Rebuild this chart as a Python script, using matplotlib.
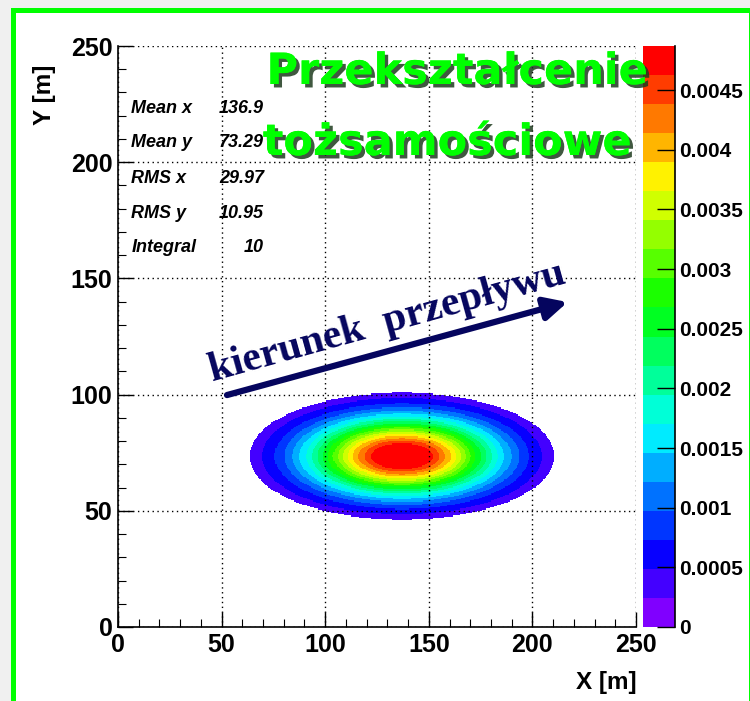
import matplotlib
matplotlib.use("Agg")
import matplotlib.pyplot as plt
import matplotlib.patheffects as pe
import numpy as np
from matplotlib.colors import ListedColormap, BoundaryNorm, hsv_to_rgb
from matplotlib.patches import Rectangle

# Plume statistics as printed in the stats box
STATS_LABELS = ["Mean x", "Mean y", "RMS x", "RMS y", "Integral"]
STATS_VALUES = ["136.9", "73.29", "29.97", "10.95", "10"]

# Concentration field: gaussian plume, cells below CUTOFF left empty
CENTER_X, CENTER_Y = 137.0, 73.5
SIGMA_X, SIGMA_Y = 31.0, 11.5
PEAK = 0.0052
CUTOFF = 0.00031
N_BINS = 500
AXIS_MAX = 250

# colour scale range and contour count
Z_MAX = 0.00487
N_LEVELS = 20
CBAR_TICKS = [0, 0.0005, 0.001, 0.0015, 0.002, 0.0025, 0.003, 0.0035, 0.004, 0.0045]
CBAR_LABELS = ["0", "0.0005", "0.001", "0.0015", "0.002", "0.0025", "0.003",
               "0.0035", "0.004", "0.0045"]
AXIS_TICKS = [0, 50, 100, 150, 200, 250]

# flow direction arrow (data coords)
ARROW_START = (52.6, 99.8)
ARROW_END = (217.0, 139.8)

NAVY = "#05055e"
GREEN = "#00ff00"

edges = np.linspace(0, AXIS_MAX, N_BINS + 1)
centers = 0.5 * (edges[:-1] + edges[1:])
gx, gy = np.meshgrid(centers, centers)
r2 = ((gx - CENTER_X) / SIGMA_X) ** 2 + ((gy - CENTER_Y) / SIGMA_Y) ** 2
field = np.minimum(PEAK * np.exp(-0.5 * r2), Z_MAX * 0.9999)
field = np.ma.masked_where(PEAK * np.exp(-0.5 * r2) < CUTOFF, field)

# rainbow palette, violet -> red
hues = np.linspace(270, 0, N_LEVELS) / 360.0
colors = hsv_to_rgb(np.column_stack([hues, np.ones(N_LEVELS), np.ones(N_LEVELS)]))
cmap = ListedColormap(colors)
cmap.set_bad(alpha=0)
levels = np.linspace(0, Z_MAX, N_LEVELS + 1)
norm = BoundaryNorm(levels, cmap.N)

fig = plt.figure(figsize=(7.5, 7.01), dpi=100)
fig.patch.set_facecolor("#f0f0f0")
W, H = 750, 701
frame = Rectangle((12.5 / W, -0.05), (751 - 12.5) / W, 1.05 - 10.5 / H,
                  transform=fig.transFigure, facecolor="white", edgecolor=GREEN,
                  linewidth=3.6, zorder=-5)
fig.patches.append(frame)

ax = fig.add_axes([118 / W, 1 - 627 / H, 518 / W, 581 / H])
ax.set_facecolor("white")
ax.pcolormesh(edges, edges, field, cmap=cmap, norm=norm, zorder=1)

ax.set_xlim(0, AXIS_MAX)
ax.set_ylim(0, AXIS_MAX)
ax.set_xticks(AXIS_TICKS)
ax.set_yticks(AXIS_TICKS)
ax.set_xticks(np.arange(0, AXIS_MAX + 1, 10), minor=True)
ax.set_yticks(np.arange(0, AXIS_MAX + 1, 10), minor=True)
ax.grid(True, which="major", color="black", linestyle=(0, (1, 2.5)), linewidth=1.0, zorder=2)
ax.set_axisbelow(False)
ax.tick_params(which="major", direction="in", length=11, width=1.0, labelsize=18, pad=4)
ax.tick_params(which="minor", direction="in", length=5.5, width=0.8)
ax.tick_params(top=False, right=False)
for lbl in ax.get_xticklabels() + ax.get_yticklabels():
    lbl.set_fontweight("bold")
    lbl.set_fontfamily("Liberation Sans")
for side in ["top", "right"]:
    ax.spines[side].set_visible(False)
for side in ["left", "bottom"]:
    ax.spines[side].set_linewidth(1.2)

fig.text(44 / W, 1 - 95 / H, "Y [m]", rotation=90, ha="center", va="center",
         fontsize=17.5, fontweight="bold", family="Liberation Sans")
fig.text(637 / W, 1 - 683 / H, "X [m]", ha="right", va="center",
         fontsize=17.5, fontweight="bold", family="Liberation Sans")

# stats box entries
row_y = [223.3, 208.3, 193.2, 178.1, 163.1]
for name, val, y in zip(STATS_LABELS, STATS_VALUES, row_y):
    ax.text(6.5, y, name, ha="left", va="center", fontsize=13,
            fontweight="bold", style="italic", family="Liberation Sans", zorder=5)
    ax.text(70.5, y, val, ha="right", va="center", fontsize=13,
            fontweight="bold", style="italic", family="Liberation Sans", zorder=5)

# flow direction arrow and label
ax.annotate("", xy=ARROW_END, xytext=ARROW_START,
            arrowprops=dict(arrowstyle="-|>", color=NAVY, lw=4.5,
                            mutation_scale=34, shrinkA=0, shrinkB=0), zorder=6)
ax.text(130.0, 131.0, "kierunek  przepływu", rotation=15.5, ha="center", va="center",
        rotation_mode="anchor", fontsize=30, fontweight="bold", color=NAVY,
        family="Liberation Serif", zorder=6)

# title with drop shadow
shadow = [pe.withSimplePatchShadow(offset=(2.5, -2.5), shadow_rgbFace="#1e3b1e", alpha=0.85),
          pe.Normal()]
for txt, cx, cy in [("Przekształcenie", 457, 72), ("tożsamościowe", 447, 143)]:
    fig.text(cx / W, 1 - cy / H, txt, ha="center", va="center", fontsize=31,
             fontweight="bold", color=GREEN, family="DejaVu Sans",
             path_effects=shadow, zorder=10)

# colour scale
cax = fig.add_axes([643 / W, 1 - 627 / H, 32 / W, 581 / H])
for i in range(N_LEVELS):
    cax.axhspan(levels[i], levels[i + 1], color=colors[i], lw=0)
cax.set_ylim(0, Z_MAX)
cax.set_xlim(0, 1)
cax.set_xticks([])
cax.yaxis.tick_right()
cax.set_yticks(CBAR_TICKS)
cax.set_yticklabels(CBAR_LABELS)
cax.tick_params(axis="y", direction="in", length=13, width=1.0, labelsize=15, pad=3)
for lbl in cax.get_yticklabels():
    lbl.set_fontweight("bold")
    lbl.set_fontfamily("Liberation Sans")
for side in ["top", "left", "bottom"]:
    cax.spines[side].set_visible(False)
cax.spines["right"].set_linewidth(1.2)

fig.savefig("out.png", dpi=100, facecolor=fig.get_facecolor())
